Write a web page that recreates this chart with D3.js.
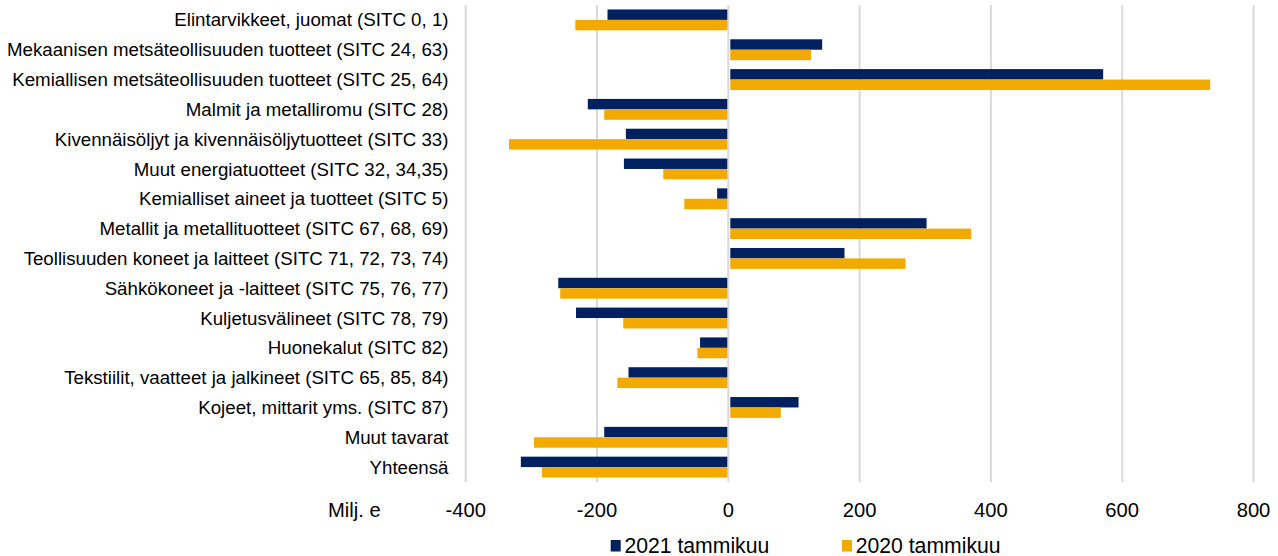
<!DOCTYPE html>
<html><head><meta charset="utf-8">
<script src="https://cdn.jsdelivr.net/npm/d3@7"></script>
<style>body{margin:0;background:#fff}svg{display:block}text{font-family:"Liberation Sans",Arial,sans-serif;fill:#000}</style>
</head><body><svg id="c" width="1278" height="556"></svg>
<script>
const categories = [
  "Elintarvikkeet, juomat (SITC 0, 1)",
  "Mekaanisen metsäteollisuuden tuotteet (SITC 24, 63)",
  "Kemiallisen metsäteollisuuden tuotteet (SITC 25, 64)",
  "Malmit ja metalliromu (SITC 28)",
  "Kivennäisöljyt ja kivennäisöljytuotteet (SITC 33)",
  "Muut energiatuotteet (SITC 32, 34,35)",
  "Kemialliset aineet ja tuotteet (SITC 5)",
  "Metallit ja metallituotteet (SITC 67, 68, 69)",
  "Teollisuuden koneet ja laitteet (SITC 71, 72, 73, 74)",
  "Sähkökoneet ja -laitteet (SITC 75, 76, 77)",
  "Kuljetusvälineet (SITC 78, 79)",
  "Huonekalut (SITC 82)",
  "Tekstiilit, vaatteet ja jalkineet (SITC 65, 85, 84)",
  "Kojeet, mittarit yms. (SITC 87)",
  "Muut tavarat",
  "Yhteensä"
];
const series2021 = [-184, 143, 571, -214, -156, -159, -17, 302, 177, -259, -232, -43, -152, 107, -189, -316];
const series2020 = [-233, 126, 734, -189, -334, -99, -67, 370, 270, -256, -160, -47, -169, 80, -296, -284];
const seriesNames = ["2021 tammikuu", "2020 tammikuu"];
const xTicks = [-400, -200, 0, 200, 400, 600, 800];
const axisTitle = "Milj. e";

const colors = ["#002060", "#F2A900"];
const svg = d3.select("#c");
const x = d3.scaleLinear().domain([-400, 800]).range([465.7, 1253.5]);
const y = d3.scaleBand().domain(categories).range([5, 482]).paddingInner(0.3).paddingOuter(0.15);
const yi = d3.scaleBand().domain([0,1]).range([0, y.bandwidth()]);

// gridlines
svg.append("g").selectAll("line").data(xTicks).join("line")
  .attr("x1", d => x(d)).attr("x2", d => x(d))
  .attr("y1", 5).attr("y2", 482)
  .attr("stroke", "#d9d9d9").attr("stroke-width", 2);

const data = [series2021, series2020];
data.forEach((s, si) => {
  svg.append("g").selectAll("rect").data(s).join("rect")
    .attr("x", d => d < 0 ? x(d) : x(0) + 2)
    .attr("width", d => d < 0 ? x(0) - 1 - x(d) : x(d) - x(0) - 2)
    .attr("y", (d, i) => y(categories[i]) + yi(si))
    .attr("height", yi.bandwidth())
    .attr("fill", colors[si]);
});

// category labels
svg.append("g").selectAll("text").data(categories).join("text")
  .attr("x", 448.5).attr("y", d => y(d) + y.bandwidth() / 2)
  .attr("dy", "0.35em").attr("text-anchor", "end")
  .attr("font-size", 18.7).text(d => d);

// x tick labels
svg.append("g").selectAll("text").data(xTicks).join("text")
  .attr("x", d => x(d)).attr("y", 509.5).attr("dy", "0.35em")
  .attr("text-anchor", "middle").attr("font-size", 20.2).text(d => d);
svg.append("text").attr("x", 328).attr("y", 509.5).attr("dy", "0.35em")
  .attr("font-size", 20.2).text(axisTitle);

// legend
const legX = [610.7, 842];
seriesNames.forEach((n, i) => {
  svg.append("rect").attr("x", legX[i]).attr("y", 540).attr("width", 10).attr("height", 11.5).attr("fill", colors[i]);
  svg.append("text").attr("x", legX[i] + 13.7).attr("y", 545.5).attr("dy", "0.35em")
    .attr("font-size", 21.2).text(n);
});
</script></body></html>
